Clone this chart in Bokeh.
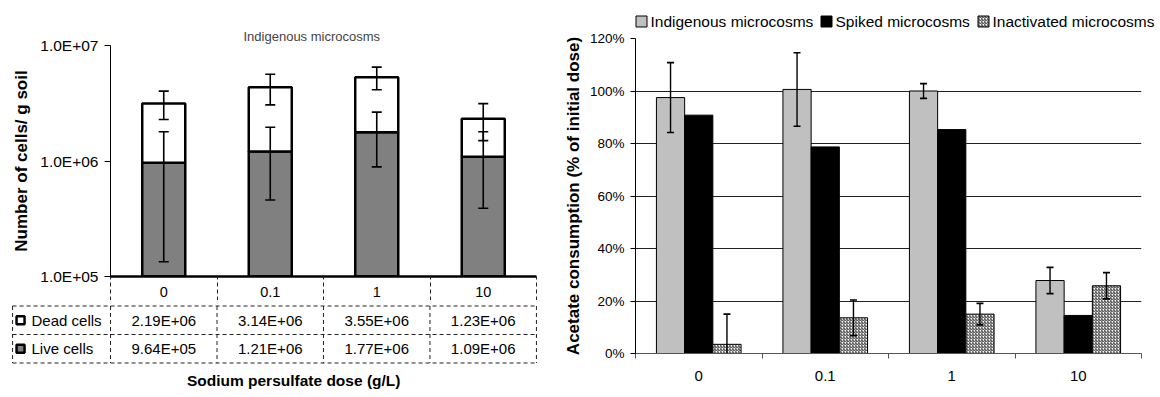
from bokeh.plotting import figure
from bokeh.layouts import row, column
from bokeh.models import (Range1d, FixedTicker, PrintfTickFormatter, ColumnDataSource)
from bokeh.core.properties import value
from bokeh.embed import file_html
from bokeh.resources import INLINE

# ---------------- data ----------------
doses = ["0", "0.1", "1", "10"]
live_cells = [9.64e5, 1.21e6, 1.77e6, 1.09e6]
dead_cells = [2.19e6, 3.14e6, 3.55e6, 1.23e6]
live_err = [0.83e6, 0.75e6, 0.88e6, 0.70e6]
total_err = [0.87e6, 1.29e6, 1.18e6, 0.82e6]

series_names = ["Indigenous microcosms", "Spiked microcosms", "Inactivated microcosms"]
indigenous = [97.5, 100.6, 100.0, 27.8]
indigenous_err = [13.3, 14.0, 2.8, 5.0]
spiked = [90.8, 78.7, 85.3, 14.5]
inactivated = [3.5, 13.6, 15.0, 25.8]
inactivated_err = [11.5, 6.8, 4.1, 5.0]

log_ticks = [100000, 1000000, 10000000]
log_tick_labels = ["1.0E+05", "1.0E+06", "1.0E+07"]
pct_ticks = [0, 20, 40, 60, 80, 100, 120]

FONT = "Liberation Sans"
n = len(doses)
xc = [i + 0.5 for i in range(n)]
bounds = list(range(n + 1))


def bare(p):
    p.outline_line_color = None
    p.grid.visible = False
    return p


# ---------------- left: stacked log bars ----------------
totals = [l + d for l, d in zip(live_cells, dead_cells)]
src = ColumnDataSource(dict(
    x=xc, base=[log_ticks[0]] * n, live=live_cells, total=totals,
    live_hi=[v + e for v, e in zip(live_cells, live_err)],
    live_lo=[v - e for v, e in zip(live_cells, live_err)],
    tot_hi=[v + e for v, e in zip(totals, total_err)],
    tot_lo=[v - e for v, e in zip(totals, total_err)],
))

p1 = figure(width=560, height=300, x_range=Range1d(0, n),
            y_range=Range1d(log_ticks[0], log_ticks[-1]), y_axis_type="log",
            output_backend="svg", toolbar_location=None, frame_align=False,
            min_border_left=110, min_border_right=24, min_border_top=45, min_border_bottom=24)
bare(p1)

p1.vbar(x="x", bottom="base", top="live", width=0.404, source=src,
        fill_color="#808080", line_color="black", line_width=2.5)
p1.vbar(x="x", bottom="live", top="total", width=0.404, source=src,
        fill_color="white", line_color="black", line_width=2.5)
for lo, hi in (("live_lo", "live_hi"), ("tot_lo", "tot_hi")):
    p1.segment(x0="x", y0=lo, x1="x", y1=hi, source=src, line_color="black", line_width=1.6)
    p1.scatter(x="x", y=lo, source=src, marker="dash", size=10, line_color="black", line_width=1.6)
    p1.scatter(x="x", y=hi, source=src, marker="dash", size=10, line_color="black", line_width=1.6)

ya = p1.yaxis[0]
ya.ticker = FixedTicker(ticks=log_ticks)
ya.major_label_overrides = dict(zip(log_ticks, log_tick_labels))
ya.major_label_text_font = FONT
ya.major_label_text_font_size = "15.5px"
ya.major_label_text_color = "black"
ya.major_tick_out = 6
ya.major_tick_in = 0
ya.major_label_standoff = 6
ya.axis_line_color = "black"
ya.major_tick_line_color = "black"
ya.axis_label = "Number of cells/ g soil"
ya.axis_label_text_font = FONT
ya.axis_label_text_font_style = "bold"
ya.axis_label_text_font_size = "17px"
ya.axis_label_text_color = "black"
ya.axis_label_standoff = 6

xa = p1.xaxis[0]
xa.ticker = FixedTicker(ticks=xc, minor_ticks=bounds)
xa.major_label_overrides = dict(zip(xc, doses))
xa.major_label_text_font = FONT
xa.major_label_text_font_size = "14.5px"
xa.major_label_text_color = "black"
xa.major_tick_out = 0
xa.major_tick_in = 0
xa.minor_tick_out = 24
xa.minor_tick_in = 0
xa.major_label_standoff = -14
xa.minor_tick_line_dash = "4 3"
xa.minor_tick_line_color = "#222222"
xa.axis_line_width = 2.5
xa.axis_line_color = "black"

p1.title.text = "Indigenous microcosms"
p1.title.align = "left"
p1.title.offset = 133
p1.title.text_font = FONT
p1.title.text_font_size = "13px"
p1.title.text_font_style = "normal"
p1.title.standoff = 4

# ---------------- left: data table ----------------
p2 = figure(width=560, height=97, x_range=Range1d(-0.93, n + 0.01), y_range=Range1d(3.21, -0.193),
            output_backend="svg", toolbar_location=None, frame_align=False,
            x_axis_location=None, y_axis_location=None, min_border=0,
            min_border_left=11, min_border_right=23, min_border_top=0, min_border_bottom=0)
bare(p2)

left_edge = -0.92
rows_y = [0, 1, 2]
p2.segment(x0=[left_edge] * 3, x1=[n] * 3, y0=rows_y, y1=rows_y,
           line_color="#222222", line_width=1, line_dash="4 3")
vx = [left_edge] + bounds
p2.segment(x0=vx, x1=vx, y0=[0] * len(vx), y1=[2] * len(vx),
           line_color="#222222", line_width=1, line_dash="4 3")

row_names = ["Dead cells", "Live cells"]
row_fill = ["white", "#808080"]
row_vals = [dead_cells, live_cells]
p2.scatter(x=[-0.845, -0.845], y=[0.5, 1.5], marker="square", size=8,
           fill_color=row_fill, line_color="black", line_width=2.5)
p2.text(x=[-0.742, -0.742], y=[0.5, 1.5], text=row_names, text_font=value(FONT),
        text_font_size="15px", text_align="left", text_baseline="middle", text_color="black")
tx, ty, tt = [], [], []
for r, vals in enumerate(row_vals):
    for i, v in enumerate(vals):
        tx.append(xc[i]); ty.append(r + 0.5); tt.append(f"{v:.2E}")
p2.text(x=tx, y=ty, text=tt, text_font=value(FONT), text_font_size="15px",
        text_align="center", text_baseline="middle", text_color="black")
p2.text(x=[1.72], y=[2.61], text=["Sodium persulfate dose (g/L)"], text_font=value(FONT),
        text_font_size="15.5px", text_font_style="bold", text_align="center",
        text_baseline="middle", text_color="black")

# ---------------- right: legend strip ----------------
fills = ["#C0C0C0", "black", "white"]
hatches = [" ", " ", "/"]
p_leg = figure(width=600, height=30, x_range=Range1d(560, 1160), y_range=Range1d(30, 0),
               output_backend="svg", toolbar_location=None, frame_align=False,
               x_axis_location=None, y_axis_location=None, min_border=0)
bare(p_leg)
leg_glyph_x = [641, 826, 983]
p_leg.scatter(x=leg_glyph_x, y=[21] * 3, marker="square", size=11, fill_color=fills,
              hatch_pattern=hatches, hatch_scale=3, hatch_weight=1, hatch_color="#333333",
              line_color="black", line_width=1)
p_leg.text(x=[gx + 9 for gx in leg_glyph_x], y=[21] * 3, text=series_names, text_font=value(FONT),
           text_font_size="15.5px", text_align="left", text_baseline="middle", text_color="black")

# ---------------- right: grouped bars ----------------
bw = 0.223
src3 = ColumnDataSource(dict(
    x_ind=[x - bw for x in xc], x_sp=xc, x_in=[x + bw for x in xc],
    ind=indigenous, sp=spiked, inn=inactivated,
    ind_hi=[v + e for v, e in zip(indigenous, indigenous_err)],
    ind_lo=[v - e for v, e in zip(indigenous, indigenous_err)],
    in_hi=[v + e for v, e in zip(inactivated, inactivated_err)],
    in_lo=[v - e for v, e in zip(inactivated, inactivated_err)],
))

p3 = figure(width=600, height=359, x_range=Range1d(0, n), y_range=Range1d(pct_ticks[0], pct_ticks[-1]),
            output_backend="svg", toolbar_location=None, frame_align=False,
            min_border_left=69, min_border_right=19, min_border_top=8, min_border_bottom=36)
p3.outline_line_color = None
p3.xgrid.visible = False
p3.ygrid.ticker = FixedTicker(ticks=pct_ticks)
p3.ygrid.grid_line_color = "#222222"
p3.ygrid.grid_line_width = 1

p3.vbar(x="x_ind", top="ind", bottom=0, width=bw, source=src3,
        fill_color=fills[0], line_color="black", line_width=1)
p3.vbar(x="x_sp", top="sp", bottom=0, width=bw, source=src3,
        fill_color=fills[1], line_color="black", line_width=1)
p3.vbar(x="x_in", top="inn", bottom=0, width=bw, source=src3,
        fill_color=fills[2], hatch_pattern=hatches[2], hatch_scale=3, hatch_weight=1,
        hatch_color="#333333", line_color="black", line_width=1)
for xk, lo, hi in (("x_ind", "ind_lo", "ind_hi"), ("x_in", "in_lo", "in_hi")):
    p3.segment(x0=xk, y0=lo, x1=xk, y1=hi, source=src3, line_color="black", line_width=1.4)
    p3.scatter(x=xk, y=lo, source=src3, marker="dash", size=7, line_color="black", line_width=1.6)
    p3.scatter(x=xk, y=hi, source=src3, marker="dash", size=7, line_color="black", line_width=1.6)

ya3 = p3.yaxis[0]
ya3.ticker = FixedTicker(ticks=pct_ticks)
ya3.formatter = PrintfTickFormatter(format="%d%%")
ya3.major_label_text_font = FONT
ya3.major_label_text_font_size = "13.5px"
ya3.major_label_text_color = "black"
ya3.major_tick_out = 5
ya3.major_tick_in = 0
ya3.major_label_standoff = 6
ya3.axis_line_color = "black"
ya3.major_tick_line_color = "black"
ya3.axis_label = "Acetate consumption (% of initial dose)"
ya3.axis_label_text_font = FONT
ya3.axis_label_text_font_style = "bold"
ya3.axis_label_text_font_size = "17px"
ya3.axis_label_text_color = "black"
ya3.axis_label_standoff = 4

xa3 = p3.xaxis[0]
xa3.ticker = FixedTicker(ticks=xc, minor_ticks=bounds)
xa3.major_label_overrides = dict(zip(xc, doses))
xa3.major_label_text_font = FONT
xa3.major_label_text_font_size = "15px"
xa3.major_label_text_color = "black"
xa3.major_tick_out = 0
xa3.major_tick_in = 0
xa3.major_label_standoff = 12
xa3.minor_tick_out = 5
xa3.minor_tick_in = 0
xa3.minor_tick_line_color = "#555555"
xa3.axis_line_color = "#555555"

# ---------------- right: x title strip (cut at bottom, as in the original) ----------------
p_tt = figure(width=600, height=8, x_range=Range1d(560, 1160), y_range=Range1d(8, 0),
              output_backend="svg", toolbar_location=None, frame_align=False,
              x_axis_location=None, y_axis_location=None, min_border=0)
bare(p_tt)
p_tt.text(x=[892], y=[1], text=["Sodium persulfate dose (g/L)"], text_font=value(FONT),
          text_font_size="15.5px", text_font_style="bold", text_align="center",
          text_baseline="top", text_color="black")

layout = row(column(p1, p2, spacing=0), column(p_leg, p3, p_tt, spacing=0), spacing=0)
open("out.html", "w").write(file_html(layout, INLINE))
